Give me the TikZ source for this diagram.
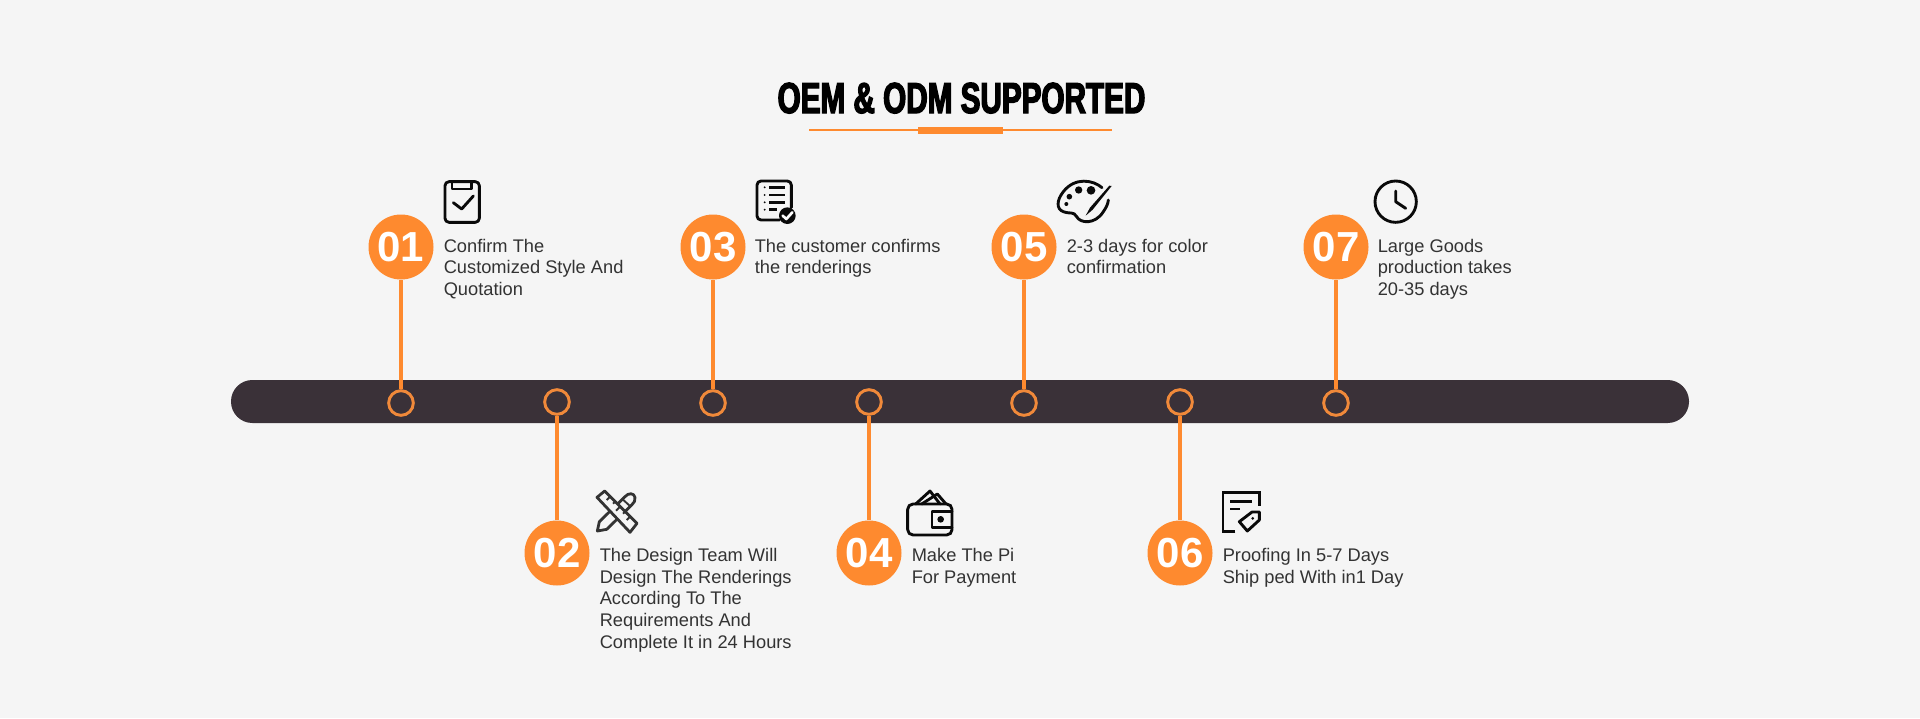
\documentclass[tikz,border=0pt]{standalone}
\usepackage{fontspec}
\setmainfont{Liberation Sans}
\newfontfamily\titlefont[FakeStretch=0.685,FakeBold=3]{Liberation Sans Bold}
\definecolor{pagebg}{HTML}{F5F5F5}
\definecolor{brand}{HTML}{FE8A2F}
\definecolor{ringc}{HTML}{F0893A}
\definecolor{barc}{HTML}{3A3138}
\definecolor{txtc}{HTML}{333333}
\definecolor{iconc}{HTML}{0A0A0A}
\tikzset{
  x=0.75pt,y=-0.75pt,
  bigdot/.style={circle,fill=brand,inner sep=0pt,minimum size=48.75pt,text=white,font=\fontsize{31.5}{31.5}\selectfont\bfseries},
  ring/.style={circle,draw=ringc,line width=2.2pt,inner sep=0pt,minimum size=18.5pt},
  stem/.style={draw=brand,line width=2.4pt},
  label/.style={anchor=base west,inner sep=0pt,text=txtc,font=\fontsize{13.7}{16.2}\selectfont,align=left},
  ico/.style={draw=iconc,line width=2.15pt,line join=round,line cap=round},
  zoomat/.style 2 args={shift={(#1,#2)},x=0.25pt,y=-0.25pt},
}
\begin{document}
\begin{tikzpicture}
\useasboundingbox (0,0) rectangle (1920,718);
\fill[pagebg] (0,0) rectangle (1920,718);
% title
\node[inner sep=0pt,anchor=base,font=\titlefont\fontsize{32.5}{34}\selectfont,text=black] (title) at (961.5,113) {OEM \& ODM SUPPORTED};
\draw[brand,line width=0.8pt] (809,130) -- (1112,130);
\fill[brand] (918,127) rectangle (1003,134);
% bar
\fill[barc,rounded corners=16pt] (231,380) rectangle (1689,423);
% big numbered dots
\foreach \n/\xx/\yy in {01/401/247,02/557/553,03/713/247,04/869/553,05/1024/247,06/1180/553,07/1336/247}{
  \node[bigdot] (big\n) at (\xx,\yy) {\n};
}
% rings
\foreach \n/\xx/\yy in {01/401/403,02/557/402,03/713/403,04/869/402,05/1024/403,06/1180/402,07/1336/403}{
  \node[ring] (ring\n) at (\xx,\yy) {};
}
% stems
\foreach \n in {01,02,03,04,05,06,07}{ \draw[stem] (big\n) -- (ring\n); }
% labels
\node[label] (t1) at (443.5,295.3) {Confirm The\\Customized Style And\\Quotation};
\node[label] (t3) at (754.5,273.7) {The customer confirms\\the renderings};
\node[label] (t5) at (1066.5,273.7) {2-3 days for color\\confirmation};
\node[label] (t7) at (1377.5,295.3) {Large Goods\\production takes\\20-35 days};
\node[label] (t2) at (599.5,648) {The Design Team Will\\Design The Renderings\\According To The\\Requirements And\\Complete It in 24 Hours};
\node[label] (t4) at (911.5,583) {Make The Pi\\For Payment};
\node[label] (t6) at (1222.5,583) {Proofing In 5-7 Days\\Ship ped With in1 Day};
% icon 01 clipboard
\begin{scope}[zoomat={350}{165}]
  \draw[ico,rounded corners=3pt] (285,50) rectangle (388,172);
  \draw[ico] (306,50) -- (306,72) -- (365,72) -- (365,50);
  \draw[ico] (310,113) -- (335,132) -- (370,93);
\end{scope}
% icon 03 list
\begin{scope}[zoomat={670}{165}]
  \draw[ico,rounded corners=3pt] (328,165) -- (261,165) -- (261,48) -- (364,48) -- (364,128);
  \foreach \yy in {67,90,112}{
    \fill[iconc] (284,\yy) circle (3.2);
    \draw[iconc,line width=1.9pt] (297,\yy) -- (345,\yy);
  }
  \fill[iconc] (284,134) circle (3.2);
  \draw[iconc,line width=1.9pt] (297,134) -- (322,134);
  \fill[iconc] (352,152) circle (25);
  \draw[white,line width=2pt,line cap=round,line join=round] (338,152) -- (349,162) -- (367,142);
\end{scope}
% icon 05 palette
\begin{scope}[zoomat={980}{165}]
  \draw[ico] (366,68) .. controls (340,45) and (285,35) .. (250,80)
    .. controls (230,105) and (228,132) .. (250,140)
    .. controls (272,148) and (280,138) .. (290,155)
    .. controls (300,175) and (345,180) .. (370,140)
    .. controls (378,128) and (384,118) .. (385,105);
  \fill[iconc] (395,63) -- (388,62) -- (330,128) -- (317,152) -- (338,134) -- cycle;
  \fill[iconc] (268,95) circle (8.5);
  \fill[iconc] (296,75) circle (11);
  \fill[iconc] (333,76) circle (13);
  \fill[iconc] (259,117) circle (6);
\end{scope}
% icon 07 clock
\begin{scope}[zoomat={1290}{165}]
  \draw[ico] (317,110) circle (62);
  \draw[ico] (317,78) -- (317,110) -- (347,130);
\end{scope}
% icon 02 tools
\begin{scope}[zoomat={510}{480}]
  \draw[draw=txtc,line width=2.1pt,line join=round] (262,153) -- (268,125) -- (345,50)
     .. controls (355,38) and (372,38) .. (375,52) .. controls (377,62) and (372,68) .. (365,75) -- (290,148) -- cycle;
  \draw[draw=txtc,line width=1.4pt] (338,58) -- (362,80);
  \draw[draw=txtc,fill=pagebg,line width=2.1pt,line join=round] (261,52) -- (284,33) -- (381,130) -- (360,157) -- cycle;
  \foreach \a/\b/\c/\d in {300/50/290/60,315/65/309/71,330/80/318/92,345/95/339/101,360/110/350/120}{
    \draw[draw=txtc,line width=1.4pt] (\a,\b) -- (\c,\d);
  }
\end{scope}
% icon 04 wallet
\begin{scope}[zoomat={820}{480}]
  \draw[ico,rounded corners=4pt] (263,72) rectangle (396,165);
  \draw[ico] (396,94) -- (336,94) -- (336,143) -- (396,143);
  \fill[iconc] (362,118) circle (10);
  \draw[ico] (287,72) -- (330,33) -- (360,72);
  \draw[ico] (305,72) -- (352,42) -- (378,72);
\end{scope}
% icon 06 document with tag
\begin{scope}[zoomat={1130}{480}]
  \draw[ico,line cap=butt,line join=miter] (316,155) -- (279,155) -- (279,37) -- (388,37) -- (388,78);
  \draw[ico,line cap=butt] (300,65) -- (366,65);
  \draw[ico,line cap=butt] (300,87) -- (331,87);
  \draw[ico] (328,125) -- (366,96) -- (388,96) -- (388,120) -- (352,153) -- cycle;
  \fill[iconc] (368,115) circle (4.5);
\end{scope}
\end{tikzpicture}
\end{document}
